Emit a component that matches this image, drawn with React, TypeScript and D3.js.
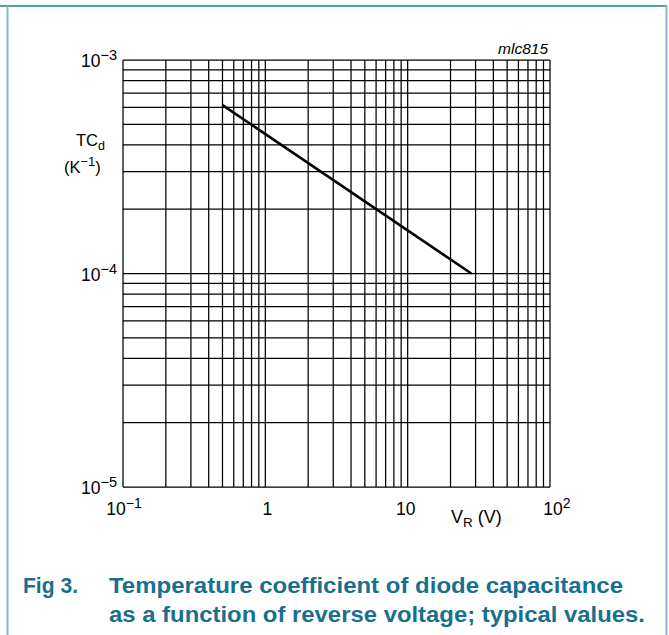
import React from 'react';
import * as d3 from 'd3';

const xDomain: [number, number] = [0.1, 100];
const yDomain: [number, number] = [1e-5, 1e-3];
const xTickLabels = [
  { v: 0.1, base: '10', sup: '−1' },
  { v: 1, base: '1', sup: '' },
  { v: 10, base: '10', sup: '' },
  { v: 100, base: '10', sup: '2' },
];
const yTickLabels = [
  { v: 1e-3, base: '10', sup: '−3' },
  { v: 1e-4, base: '10', sup: '−4' },
  { v: 1e-5, base: '10', sup: '−5' },
];
const curveVR = [0.5, 28];
const curveTC = [6.15e-4, 1.0e-4];

const W = 669;
const H = 635;
const plot = { left: 123, right: 550, top: 60, bottom: 487 };
const FONT = "'Liberation Sans', Arial, Helvetica, sans-serif";
const TEAL = '#1a6f8e';

export default function App() {
  const x = d3.scaleLog().domain(xDomain).range([plot.left, plot.right]);
  const y = d3.scaleLog().domain(yDomain).range([plot.bottom, plot.top]);
  const xg = x.ticks();
  const yg = y.ticks();
  const pts: [number, number][] = curveVR.map((v, i) => [v, curveTC[i]]);
  const line = d3
    .line<[number, number]>()
    .x((d) => x(d[0]))
    .y((d) => y(d[1]));

  return (
    <svg
      width={W}
      height={H}
      style={{ position: 'absolute', left: 0, top: 0, background: '#fff' }}
      fontFamily={FONT}
    >
      {/* frame */}
      <line x1={0} x2={667} y1={6} y2={6} stroke="#1b7a9b" strokeWidth={1.6} />
      <line x1={7.5} x2={7.5} y1={6} y2={H} stroke="#86b9cb" strokeWidth={2} />
      <line x1={666.5} x2={666.5} y1={6} y2={H} stroke="#86b9cb" strokeWidth={2} />

      {/* grid */}
      <g stroke="#000" strokeWidth={1.25}>
        {xg.map((v, i) => (
          <line key={'x' + i} x1={x(v)} x2={x(v)} y1={plot.top} y2={plot.bottom} />
        ))}
        {yg.map((v, i) => (
          <line key={'y' + i} x1={plot.left} x2={plot.right} y1={y(v)} y2={y(v)} />
        ))}
      </g>

      {/* curve */}
      <path d={line(pts) || ''} fill="none" stroke="#000" strokeWidth={2.6} />

      {/* y tick labels */}
      {yTickLabels.map((t, i) => (
        <text key={'yl' + i} x={plot.left - 6} y={y(t.v) + 7} fontSize={17.5} textAnchor="end">
          {t.base}
          <tspan fontSize={14.5} dy={-7}>{t.sup}</tspan>
        </text>
      ))}

      {/* x tick labels */}
      {xTickLabels.map((t, i) => (
        <text key={'xl' + i} x={x(t.v) + (t.sup === '2' ? 7 : t.sup ? 1 : t.base === '1' ? 2 : -2)} y={plot.bottom + 28} fontSize={17.5} textAnchor="middle">
          {t.base}
          {t.sup ? <tspan fontSize={14} dy={-7}>{t.sup}</tspan> : null}
        </text>
      ))}

      {/* axis titles */}
      <text x={76} y={146} fontSize={16.5}>
        TC<tspan fontSize={12.5} dy={4}>d</tspan>
      </text>
      <text x={64} y={173} fontSize={16.5}>
        (K<tspan fontSize={13} dy={-7}>−1</tspan>
        <tspan dy={7}>)</tspan>
      </text>
      <text x={451} y={523} fontSize={18}>
        V<tspan fontSize={13.5} dy={4}>R</tspan>
        <tspan dy={-4}> (V)</tspan>
      </text>
      <text x={548} y={54} fontSize={15.5} fontStyle="italic" textAnchor="end">
        mlc815
      </text>

      {/* caption */}
      <g fill={TEAL} fontWeight="bold" fontSize={22.5}>
        <text x={23} y={593} textLength={55} lengthAdjust="spacingAndGlyphs">Fig 3.</text>
        <text x={109} y={593} textLength={514} lengthAdjust="spacingAndGlyphs">
          Temperature coefficient of diode capacitance
        </text>
        <text x={109} y={622} textLength={536} lengthAdjust="spacingAndGlyphs">
          as a function of reverse voltage; typical values.
        </text>
      </g>
    </svg>
  );
}
